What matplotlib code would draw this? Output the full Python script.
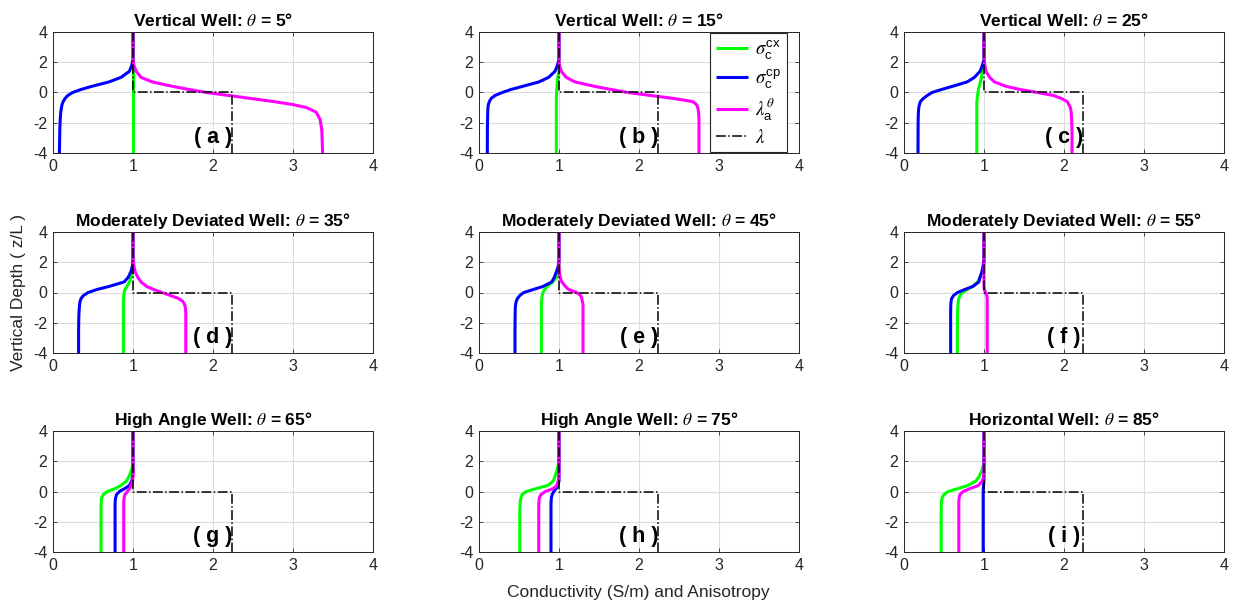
import matplotlib
matplotlib.use("Agg")
import matplotlib.pyplot as plt

plt.rcParams['font.family'] = ['Liberation Sans', 'DejaVu Sans']
plt.rcParams['mathtext.fontset'] = 'custom'
plt.rcParams['mathtext.rm'] = 'Liberation Sans'
plt.rcParams['mathtext.it'] = 'STIXGeneral:italic'
plt.rcParams['mathtext.bf'] = 'Liberation Sans:bold'
plt.rcParams['axes.unicode_minus'] = False

# ---------------- data ----------------
depth = [4, 3, 2.2, 1.8, 1.4, 1.0, 0.7, 0.4, 0.2, 0.0, -0.2, -0.4, -0.6, -0.8, -1.0, -1.3, -1.8, -2.5, -4]

titles = ["Vertical Well", "Vertical Well", "Vertical Well",
          "Moderately Deviated Well", "Moderately Deviated Well", "Moderately Deviated Well",
          "High Angle Well", "High Angle Well", "Horizontal Well"]
thetas = [5, 15, 25, 35, 45, 55, 65, 75, 85]
panel_tags = ["a", "b", "c", "d", "e", "f", "g", "h", "i"]

sigma_cx = [
    [1, 1, 1, 1, 1, 1, 1, 1, 1, 1, 1, 1, 1, 1, 1, 1, 1, 1, 1],
    [1, 1, 1, 1, 1, 0.985, 0.98, 0.975, 0.972, 0.97, 0.968, 0.967, 0.967, 0.967, 0.967, 0.967, 0.967, 0.967, 0.967],
    [1, 1, 1, 0.995, 0.98, 0.967, 0.955, 0.94, 0.93, 0.925, 0.92, 0.915, 0.912, 0.91, 0.91, 0.91, 0.91, 0.91, 0.91],
    [1, 1, 1, 1, 0.995, 0.975, 0.955, 0.925, 0.90, 0.89, 0.885, 0.882, 0.88, 0.88, 0.88, 0.88, 0.88, 0.88, 0.88],
    [1, 1, 1, 1, 1.0, 0.97, 0.92, 0.855, 0.82, 0.80, 0.79, 0.785, 0.782, 0.78, 0.78, 0.78, 0.78, 0.78, 0.78],
    [1, 1, 1, 0.995, 0.985, 0.95, 0.92, 0.86, 0.79, 0.73, 0.70, 0.685, 0.678, 0.675, 0.672, 0.67, 0.668, 0.667, 0.667],
    [1, 1, 1, 1, 0.98, 0.95, 0.92, 0.85, 0.78, 0.68, 0.63, 0.61, 0.605, 0.602, 0.60, 0.60, 0.60, 0.60, 0.60],
    [1, 1, 1, 0.995, 0.975, 0.95, 0.93, 0.86, 0.72, 0.59, 0.54, 0.525, 0.518, 0.514, 0.512, 0.51, 0.51, 0.51, 0.51],
    [1, 1, 1, 0.995, 0.975, 0.94, 0.90, 0.80, 0.68, 0.55, 0.50, 0.478, 0.47, 0.467, 0.465, 0.465, 0.465, 0.465, 0.465],
]

sigma_cp = [
    [1, 1, 1.0, 0.985, 0.955, 0.85, 0.70, 0.48, 0.35, 0.245, 0.184, 0.15, 0.127, 0.113, 0.106, 0.097, 0.090, 0.085, 0.08],
    [1, 1, 1.0, 0.98, 0.95, 0.87, 0.75, 0.54, 0.40, 0.29, 0.20, 0.15, 0.13, 0.117, 0.112, 0.109, 0.107, 0.105, 0.104],
    [1, 1, 1.0, 0.98, 0.95, 0.88, 0.79, 0.60, 0.47, 0.35, 0.29, 0.24, 0.205, 0.193, 0.185, 0.18, 0.177, 0.176, 0.175],
    [1, 1, 1.0, 0.995, 0.975, 0.94, 0.89, 0.70, 0.55, 0.44, 0.38, 0.35, 0.338, 0.332, 0.33, 0.325, 0.322, 0.32, 0.32],
    [1, 1, 1.0, 0.993, 0.97, 0.94, 0.91, 0.80, 0.68, 0.56, 0.51, 0.48, 0.465, 0.458, 0.454, 0.452, 0.451, 0.45, 0.45],
    [1, 1, 1.0, 0.99, 0.975, 0.95, 0.935, 0.86, 0.76, 0.67, 0.62, 0.595, 0.588, 0.585, 0.584, 0.583, 0.583, 0.583, 0.583],
    [1, 1, 1, 1, 1.0, 0.995, 0.985, 0.955, 0.90, 0.83, 0.795, 0.783, 0.778, 0.776, 0.776, 0.776, 0.776, 0.776, 0.776],
    [1, 1, 1, 1, 1, 1.0, 1.0, 0.985, 0.965, 0.935, 0.915, 0.905, 0.902, 0.90, 0.90, 0.90, 0.90, 0.90, 0.90],
    [1, 1, 1, 1, 1, 1.0, 0.998, 0.995, 0.992, 0.99, 0.99, 0.99, 0.99, 0.99, 0.99, 0.99, 0.99, 0.99, 0.99],
]

lambda_a = [
    [1, 1, 1.0, 1.01, 1.04, 1.10, 1.24, 1.50, 1.70, 1.92, 2.20, 2.48, 2.76, 3.00, 3.17, 3.29, 3.34, 3.36, 3.37],
    [1, 1, 1.0, 1.005, 1.03, 1.09, 1.20, 1.45, 1.65, 1.86, 2.15, 2.44, 2.67, 2.72, 2.735, 2.745, 2.75, 2.75, 2.75],
    [1, 1, 1.0, 1.01, 1.025, 1.07, 1.13, 1.28, 1.45, 1.67, 1.87, 1.97, 2.04, 2.06, 2.08, 2.09, 2.095, 2.10, 2.10],
    [1, 1, 1.0, 1.01, 1.025, 1.06, 1.10, 1.17, 1.26, 1.36, 1.47, 1.57, 1.625, 1.645, 1.655, 1.66, 1.66, 1.66, 1.66],
    [1, 1, 1.0, 1.0, 1.005, 1.015, 1.035, 1.08, 1.12, 1.22, 1.27, 1.285, 1.293, 1.30, 1.30, 1.30, 1.30, 1.30, 1.30],
    [1, 1, 1, 1, 1, 1, 1, 1.0, 1.005, 1.02, 1.035, 1.04, 1.04, 1.04, 1.04, 1.04, 1.04, 1.04, 1.04],
    [1, 1, 1, 1, 1, 1.0, 0.995, 0.975, 0.96, 0.93, 0.90, 0.89, 0.885, 0.884, 0.884, 0.884, 0.884, 0.884, 0.884],
    [1, 1, 1, 1, 1, 1.0, 0.99, 0.97, 0.93, 0.83, 0.775, 0.755, 0.75, 0.748, 0.747, 0.747, 0.747, 0.747, 0.747],
    [1, 1, 1, 1, 1.0, 0.995, 0.98, 0.93, 0.83, 0.74, 0.70, 0.69, 0.686, 0.685, 0.685, 0.685, 0.685, 0.685, 0.685],
]

lambda_depth = [4, 0, 0, -4]
lambda_true = [1.0, 1.0, 2.236, 2.236]

x_ticks = [0, 1, 2, 3, 4]
y_ticks = [-4, -2, 0, 2, 4]

# ---------------- figure ----------------
W, H = 1234, 602
fig = plt.figure(figsize=(W / 100, H / 100), dpi=100)

lefts = [53, 479, 904]
tops = [32, 232, 431]
aw, ah = 320, 121

axis_grey = (0.15, 0.15, 0.15)
lw = 2.2

for k in range(9):
    r, c = divmod(k, 3)
    ax = fig.add_axes([lefts[c] / W, 1 - (tops[r] + ah) / H, aw / W, ah / H])
    ax.plot(sigma_cx[k], depth, color=(0, 1, 0), lw=lw, label=r'$\sigma_{\mathrm{c}}^{\mathrm{cx}}$', solid_capstyle='butt')
    ax.plot(sigma_cp[k], depth, color=(0, 0, 1), lw=lw, label=r'$\sigma_{\mathrm{c}}^{\mathrm{cp}}$', solid_capstyle='butt')
    ax.plot(lambda_a[k], depth, color=(1, 0, 1), lw=lw, label=r'$\lambda_{\mathrm{a}}^{\theta}$', solid_capstyle='butt')
    ax.plot(lambda_true, lambda_depth, color='black', lw=1.1, ls='-.', label=r'$\lambda$')
    ax.set_xlim(0, 4)
    ax.set_ylim(-4, 4)
    ax.set_xticks(x_ticks)
    ax.set_yticks(y_ticks)
    ax.grid(True, color=(0.86, 0.86, 0.86), lw=0.8)
    ax.set_axisbelow(True)
    ax.tick_params(direction='in', length=3, width=0.6, colors=axis_grey,
                   labelsize=11.5, pad=4, top=True, right=True)
    for sp in ax.spines.values():
        sp.set_color(axis_grey)
        sp.set_linewidth(0.7)
    ax.set_title(titles[k] + r': $\theta$ = ' + f'{thetas[k]}\u00b0',
                 fontsize=12.5, fontweight='bold', pad=4)
    ax.text(2.0, -3.0, f'( {panel_tags[k]} )', fontsize=15.5, fontweight='bold',
            ha='center', va='center')
    if k == 1:
        leg = ax.legend(loc='upper right', bbox_to_anchor=(0.962, 0.995),
                        borderaxespad=0, fontsize=13.5, handlelength=1.7,
                        labelspacing=0.3, handletextpad=0.4, borderpad=0.3,
                        fancybox=False, framealpha=1)
        leg.get_frame().set_edgecolor(axis_grey)
        leg.get_frame().set_linewidth(0.8)

fig.text(19 / W, 1 - 292 / H, 'Vertical Depth ( z/L )', rotation=90,
         ha='center', va='center', fontsize=12.5, color=axis_grey)
fig.text(638 / W, 1 - 593 / H, 'Conductivity (S/m) and Anisotropy',
         ha='center', va='center', fontsize=12.5, color=axis_grey)

fig.savefig('out.png', dpi=100)
